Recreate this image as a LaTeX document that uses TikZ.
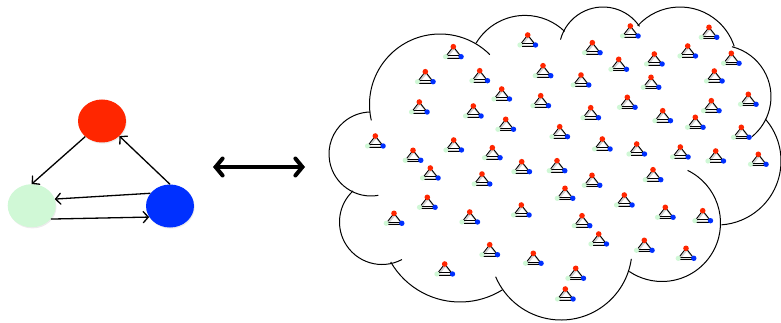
\documentclass[tikz,border=0pt]{standalone}
\usetikzlibrary{shapes.geometric,arrows.meta,shadows}
\definecolor{nodered}{RGB}{255,38,0}
\definecolor{nodeblue}{RGB}{0,48,255}
\definecolor{nodegreen}{RGB}{208,248,214}
\begin{document}
\begin{tikzpicture}[x=1pt,y=-1pt,
  bignode/.style={ellipse, minimum width=48pt, minimum height=43pt, inner sep=0pt,
    drop shadow={opacity=0.15, shadow xshift=0.8pt, shadow yshift=-1.2pt}},
  link/.style={line width=1.3pt, -{Straight Barb[length=5pt,width=11pt,line cap=round]}},
  swap/.style={line width=4pt, line cap=round,
    {Straight Barb[length=7pt,width=17pt,line cap=round]}-{Straight Barb[length=7pt,width=17pt,line cap=round]}},
  cloudline/.style={line width=1pt},
  miniedge/.style={line width=0.85pt},
  mini/.pic={
    % soft shadow
    \draw[line width=1.8pt, black, opacity=0.18, line cap=round]
      (-7,11) -- (0.8,1.5) -- (8.5,11) (-7,11) -- (8.5,11);
    \draw[miniedge] (-7.8,10) -- (0,0) -- (7.8,10);
    \draw[miniedge] (-7.8,8.7) -- (7.8,8.7) (-7.8,11.3) -- (7.8,11.3);
    \fill[nodegreen] (-7.8,10) circle (2.6);
    \fill[nodeblue] (7.8,10) circle (2.7);
    \fill[nodered] (0,0) circle (2.8);
  }]
\useasboundingbox (0,0) rectangle (781,323);

% small three-node graph
\node[bignode, fill=nodered]   (r) at (102,121) {};
\node[bignode, fill=nodegreen] (g) at (31.7,205.7) {};
\node[bignode, fill=nodeblue]  (b) at (170,206) {};
\draw[link] (r.223) -- (g.90);
\draw[link] (b.90) -- (r.-41);
\draw[link] (b.147) -- (g.16);
\draw[link] (g.-35) -- (b.208);

% two-headed arrow
\coordinate (sl) at (213,167);
\coordinate (sr) at (305,167);
\draw[swap] (sl) -- (sr);

% cloud outline, one arc per bump
\begin{scope}
\clip (0,0) rectangle (781,323);
\foreach \cx/\cy/\rr/\aa/\bb in {
  440/104.5/70.5/167/315,
  525/72.4/57/211/314,
  603/51/44/195/326,
  680/64/57/222/342,
  719.5/96.7/51.5/284/411,
  717/161/64/-41/86,
  662/223/58.5/-64/124,
  561/249/71/8/157,
  460/222/80/58/150,
  382/222/42.5/62/227,
  371/154/42/80/269}
  \draw[cloudline] ([shift={(\aa:\rr)}]\cx,\cy) arc[start angle=\aa, end angle=\bb, radius=\rr];
\end{scope}

% many copies of the graph inside the cloud
\foreach \px/\py in {
  527.7/35, 630.3/26, 709/27.3, 453.3/46.7, 592.3/42.7, 687.7/46,
  731.3/53.3, 654.3/54, 618.7/59.3, 425.3/71.7, 479.7/70.7, 543/65.7,
  581/75, 651/77.3, 714.3/71, 501.7/89, 540.7/95.7, 627.3/97.3,
  711.3/100.7, 748.3/94.3, 419.3/102, 473.3/106, 590.7/107.7, 662.7/110.7,
  695.3/117.3, 505.7/119.3, 559.7/126.7, 741.3/127.3, 375.3/136, 453.7/140,
  602.3/139, 636.7/144, 680.3/147, 715.7/151, 758.3/154.3, 413/150.3,
  492.3/147.7, 521.7/161.7, 557/160.7, 430.3/168, 482/174, 592/175.3,
  653/169.7, 565/188.3, 624.3/195, 427.3/197.3, 394/213.3, 469.7/212,
  521.3/205, 665.3/207.3, 702.7/210.7, 582/215.7, 598.7/234, 644.3/240.3,
  489.7/244.7, 533.3/253.3, 686/248.3, 444.7/264, 575.7/268.3, 565.3/289}
  \pic at (\px,\py) {mini};
\end{tikzpicture}
\end{document}
